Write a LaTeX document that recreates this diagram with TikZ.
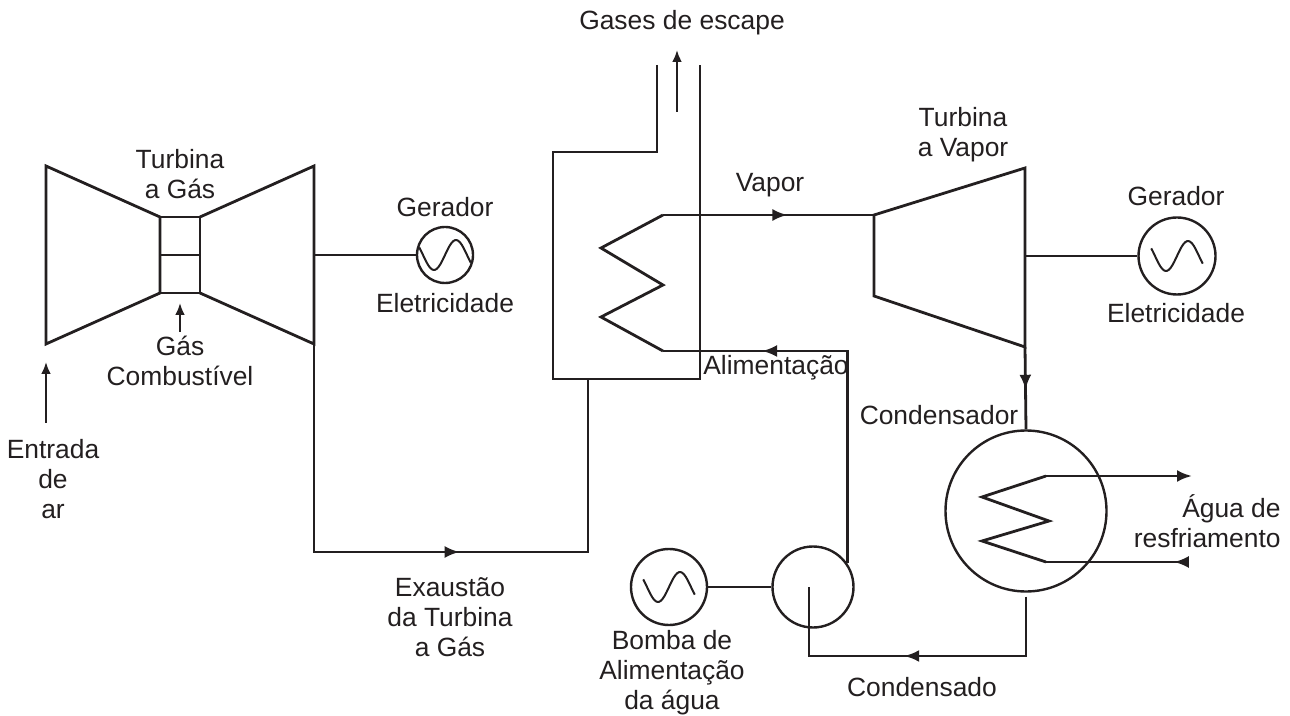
\documentclass[tikz,border=0pt]{standalone}
\usepackage{fontspec}
\setmainfont{Liberation Sans}
\usetikzlibrary{arrows.meta,decorations.markings}
\definecolor{ink}{RGB}{35,31,32}
\tikzset{
  pipe/.style={line width=1.4pt, draw=ink, line join=miter},
  tip/.style={-{Latex[length=6pt,width=5pt]}},
  flow/.style={postaction={decorate}, decoration={markings,
      mark=at position #1 with {\arrow{Latex[length=7.5pt,width=6pt]}}}},
  txt/.style={inner sep=0pt, align=center, text=ink, font=\fontsize{13.2}{15}\selectfont},
  vessel/.style={circle, draw=ink, line width=1.2pt, inner sep=0pt, minimum size={#1*0.5pt}},
  gen/.style={vessel=#1, path picture={
      \draw[ink, line width=1pt, shift={(path picture bounding box.center)}, scale=#1/77]
        plot[smooth, domain=-1.17:1.17, samples=30] ({22*\x},{-15*sin(180*\x)});}},
}
\begin{document}
\begin{tikzpicture}[x=0.5pt,y=-0.5pt]
  \useasboundingbox (0,0) rectangle (1290,716);
  % gas turbine
  \draw[pipe] (46,166) -- (160,217) -- (160,293) -- (46,344) -- cycle;
  \draw[pipe] (200,217) -- (314,166) -- (314,344) -- (200,293);
  \draw[pipe] (160,217) rectangle (200,293) (160,255) -- (200,255);
  \coordinate (gtshaft) at (314,255);
  \coordinate (gtout) at (314,344);
  \coordinate (fuel) at (180,332);
  \coordinate (air) at (46,423);
  \draw[pipe,tip] (fuel) -- (180,303);
  \draw[pipe,tip] (air) -- (46,362);
  \node[gen=56] (gtgen) at (445,255) {};
  \draw[pipe] (gtshaft) -- (gtgen.west);
  % recovery boiler
  \draw[pipe] (657,65) -- (657,152) -- (553,152) -- (553,379) -- (700,379) -- (700,65);
  \coordinate (stack) at (677,112);
  \draw[pipe,tip] (stack) -- (677,50);
  \coordinate (hrin) at (588,379);
  \coordinate (coilA) at (663,215);
  \coordinate (coilB) at (663,351);
  \draw[pipe] (coilA) -- (601,248) -- (663,285) -- (601,317) -- (coilB);
  \draw[pipe,flow=0.54] (gtout) -- (314,552) -- (588,552) -- (hrin);
  % steam turbine
  \coordinate (stin) at (874,215);
  \coordinate (stshaft) at (1025,256);
  \coordinate (stout) at (1025,347);
  \draw[pipe] (stin) -- (1025,168) -- (stout) -- (874,296) -- cycle;
  \draw[pipe,flow=0.59] (coilA) -- (stin);
  \node[gen=77] (stgen) at (1177,256) {};
  \draw[pipe] (stshaft) -- (stgen.west);
  % condenser and pump
  \node[vessel=161] (cond) at (1026,511) {};
  \node[vessel=81] (pump) at (813,587) {};
  \node[gen=76] (motor) at (669,587) {};
  \draw[pipe,flow=0.52] (stout) -- (cond.north);
  \draw[pipe] (1046,476) -- (982,497) -- (1049,521) -- (982,541) -- (1046,562);
  \draw[pipe,-{Latex[length=7.5pt,width=6pt]}] (1046,476) -- (1192,476);
  \coordinate (cwin) at (1188,562);
  \draw[pipe,flow=0.1] (cwin) -- (1046,562);
  \coordinate (pumpin) at (809,587);
  \draw[pipe,flow=0.53,shorten <=2pt] (cond.south) |- (809,656) -- (pumpin);
  \draw[pipe,flow=0.75] (pump.35) |- (coilB);
  \draw[pipe] (motor.east) -- (pump.west);
  % labels
  \node[txt] at (180,174) {Turbina\\a Gás};
  \node[txt] at (180,361) {Gás\\Combustível};
  \node[txt] at (53,479) {Entrada\\de\\ar};
  \node[txt] at (445,207) {Gerador};
  \node[txt] at (445,303) {Eletricidade};
  \node[txt] at (682,23) {Gases de escape};
  \node[txt] at (770,185) {Vapor};
  \node[txt] at (776,368) {Alimentação};
  \node[txt] at (963,135) {Turbina\\a Vapor};
  \node[txt] at (1176,196) {Gerador};
  \node[txt] at (1176,313) {Eletricidade};
  \node[txt] at (939,415) {Condensador};
  \node[txt,align=right,anchor=east] at (1281,521) {Água de\\resfriamento};
  \node[txt] at (450,617) {Exaustão\\da Turbina\\a Gás};
  \node[txt] at (672,673) {Bomba de\\Alimentação\\da água};
  \node[txt] at (922,687) {Condensado};
\end{tikzpicture}
\end{document}
